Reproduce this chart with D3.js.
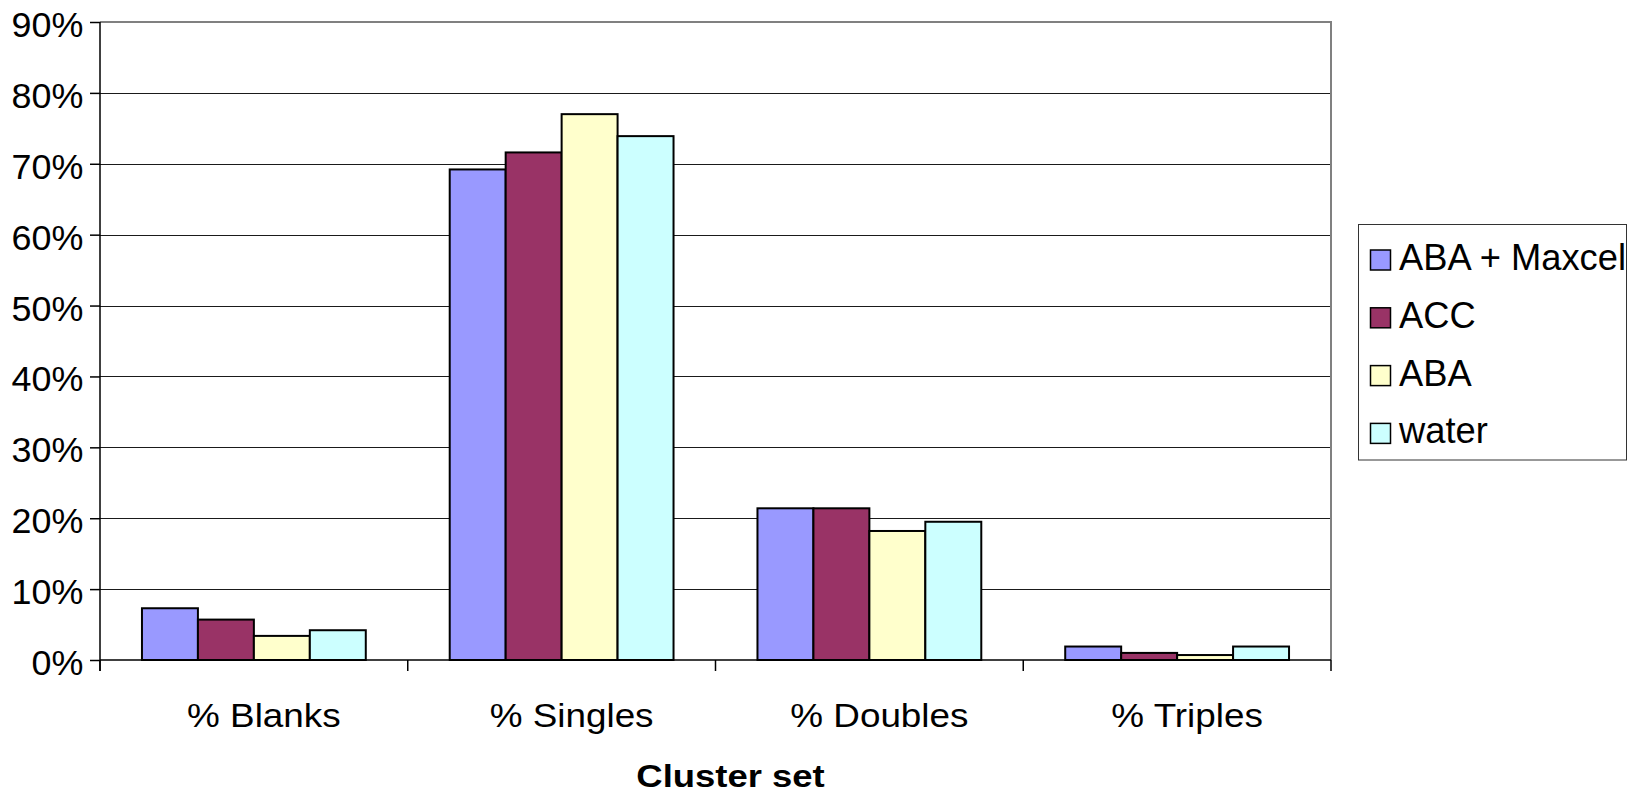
<!DOCTYPE html>
<html>
<head>
<meta charset="utf-8">
<script src="https://cdn.jsdelivr.net/npm/d3@7"></script>
<style>
  html, body { margin: 0; padding: 0; background: #fff; }
  svg { display: block; }
  text { font-family: "Liberation Sans", Arial, sans-serif; fill: #000; }
</style>
</head>
<body>
<svg id="chart" width="1633" height="795"></svg>
<script>
const categories = ["% Blanks", "% Singles", "% Doubles", "% Triples"];
const seriesNames = ["ABA + Maxcel", "ACC", "ABA", "water"];
const abaMaxcelValues = [7.3, 69.2, 21.4, 1.9];
const accValues = [5.7, 71.6, 21.4, 1.0];
const abaValues = [3.4, 77.0, 18.2, 0.7];
const waterValues = [4.2, 73.9, 19.5, 1.9];
const yTickValues = [0, 10, 20, 30, 40, 50, 60, 70, 80, 90];
const seriesColors = ["#9999FF", "#993366", "#FFFFCC", "#CCFFFF"];
const xAxisTitle = "Cluster set";

const seriesValues = [abaMaxcelValues, accValues, abaValues, waterValues];

const svg = d3.select("#chart");
const plotLeft = 100, plotRight = 1331, plotTop = 22, plotBottom = 660;

const y = d3.scaleLinear().domain([0, 90]).range([plotBottom, plotTop]);
const x0 = d3.scaleBand().domain(categories).range([plotLeft, plotRight]).paddingInner(0).paddingOuter(0);
const x1 = d3.scaleBand().domain(seriesNames).range([0, x0.bandwidth()]).paddingInner(0).paddingOuter(0.75);
const color = d3.scaleOrdinal().domain(seriesNames).range(seriesColors);

// gridlines
svg.append("g")
  .attr("transform", `translate(${plotLeft},0)`)
  .call(d3.axisLeft(y).tickValues(yTickValues.slice(1)).tickSize(-(plotRight - plotLeft)).tickFormat(""))
  .call(g => g.select(".domain").remove())
  .call(g => g.selectAll("line").attr("stroke", "#1a1a1a").attr("stroke-width", 1).attr("shape-rendering", "crispEdges"));

// plot area border (top and right, gray)
svg.append("path")
  .attr("d", `M${plotLeft},${plotTop} H${plotRight} V${plotBottom}`)
  .attr("fill", "none").attr("stroke", "#808080").attr("stroke-width", 2);

// bars
const groups = svg.append("g").selectAll("g")
  .data(categories)
  .join("g")
  .attr("transform", d => `translate(${x0(d)},0)`);

groups.selectAll("rect")
  .data((c, ci) => seriesNames.map((s, si) => ({ s, v: seriesValues[si][ci] })))
  .join("rect")
  .attr("x", d => x1(d.s))
  .attr("width", x1.bandwidth())
  .attr("y", d => y(d.v))
  .attr("height", d => y(0) - y(d.v))
  .attr("fill", d => color(d.s))
  .attr("stroke", "#000")
  .attr("stroke-width", 2);

// y axis
const yAxis = svg.append("g")
  .attr("transform", `translate(${plotLeft},0)`)
  .call(d3.axisLeft(y).tickValues(yTickValues).tickSize(10).tickPadding(6).tickFormat(d => d + "%"));
yAxis.select(".domain").attr("d", `M0,${plotTop}V${plotBottom + 11}`).attr("stroke", "#000").attr("stroke-width", 1.5);
yAxis.selectAll(".tick line").attr("stroke", "#000").attr("stroke-width", 1.5);
yAxis.selectAll(".tick text")
  .attr("font-family", "Liberation Sans, Arial, sans-serif")
  .attr("font-size", 34.5)
  .attr("fill", "#000")
  .attr("dy", "0.42em")
  .attr("transform", "scale(1.04,1)");

// x axis line and boundary ticks
const xAxis = svg.append("g");
xAxis.append("line")
  .attr("x1", plotLeft).attr("x2", plotRight).attr("y1", plotBottom).attr("y2", plotBottom)
  .attr("stroke", "#000").attr("stroke-width", 1.5);
const boundaries = categories.map(c => x0(c)).concat([x0.range()[1]]);
xAxis.selectAll("line.tick")
  .data(boundaries)
  .join("line")
  .attr("class", "tick")
  .attr("x1", d => d).attr("x2", d => d)
  .attr("y1", plotBottom).attr("y2", plotBottom + 11)
  .attr("stroke", "#000").attr("stroke-width", 1.5);

// category labels
xAxis.selectAll("text")
  .data(categories)
  .join("text")
  .attr("transform", d => `translate(${x0(d) + x0.bandwidth() / 2 + 10},${plotBottom + 67}) scale(1.1,1)`)
  .attr("text-anchor", "middle")
  .attr("font-size", 33.5)
  .text(d => d);

// axis title
svg.append("text")
  .attr("transform", `translate(${(plotLeft + plotRight) / 2 + 15},787) scale(1.15,1)`)
  .attr("text-anchor", "middle")
  .attr("font-size", 31.7)
  .attr("font-weight", "bold")
  .text(xAxisTitle);

// legend
const legend = svg.append("g");
legend.append("rect")
  .attr("x", 1358.5).attr("y", 224.5).attr("width", 268).attr("height", 235.5)
  .attr("fill", "#fff").attr("stroke", "#333").attr("stroke-width", 1);
const items = legend.selectAll("g.item")
  .data(seriesNames)
  .join("g")
  .attr("class", "item")
  .attr("transform", (d, i) => `translate(1370,${270 + i * 57.8})`);
items.append("rect")
  .attr("x", 0.5).attr("y", -20).attr("width", 20).attr("height", 20)
  .attr("fill", d => color(d)).attr("stroke", "#000").attr("stroke-width", 1.5);
items.append("text")
  .attr("x", 29).attr("y", 0)
  .attr("font-size", 36.3)
  .text(d => d);
</script>
</body>
</html>
